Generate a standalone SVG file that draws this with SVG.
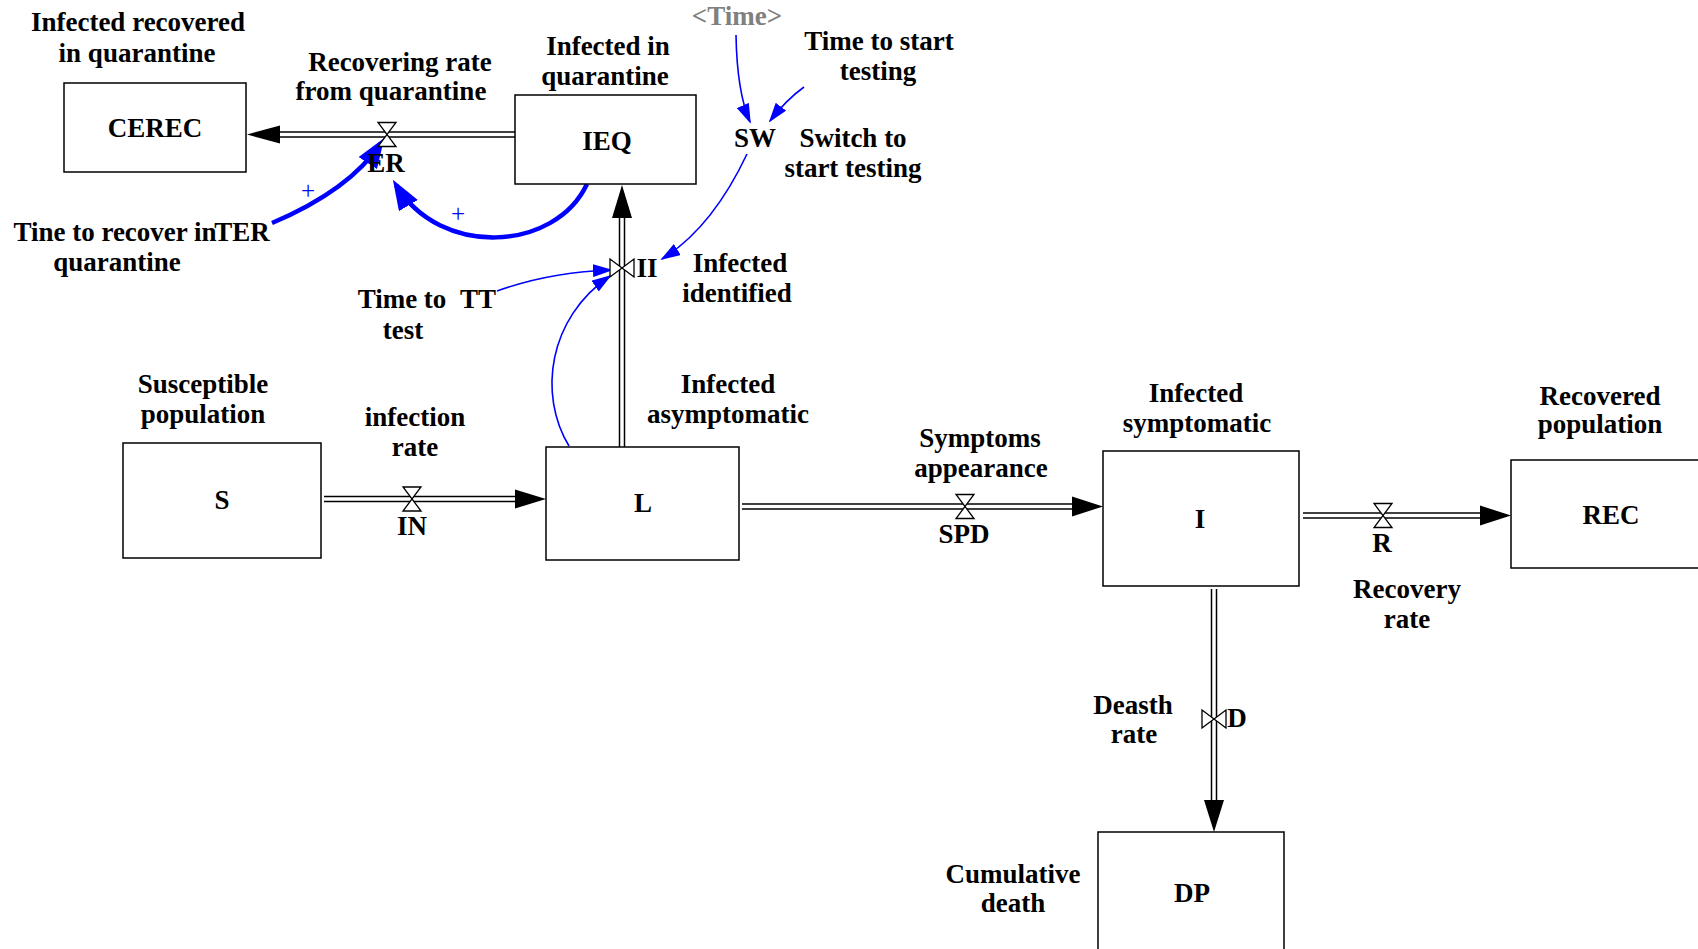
<svg xmlns="http://www.w3.org/2000/svg" width="1698" height="949" viewBox="0 0 1698 949">
<style>
text{font-family:"Liberation Serif","Times New Roman",serif;font-weight:bold;font-size:27px;fill:#000;text-anchor:middle}
.box{fill:#fff;stroke:#000;stroke-width:1.5}
.pipeo{stroke:#000;stroke-width:6.5;fill:none}
.pipei{stroke:#fff;stroke-width:3.5;fill:none}
.head{fill:#000;stroke:none}
.valve{fill:#fff;stroke:#000;stroke-width:1.3;stroke-linejoin:miter}
.thin{fill:none;stroke:#0000ff;stroke-width:1.6;marker-end:url(#ah)}
.thick{fill:none;stroke:#0000ff;stroke-width:4.5;marker-end:url(#ahb)}
.plus{fill:#0000ff;font-weight:normal;font-size:25px}
.gray{fill:#808080}
</style>
<defs>
<marker id="ah" markerUnits="userSpaceOnUse" markerWidth="20" markerHeight="13" refX="18" refY="6.5" orient="auto"><path d="M0,0 L20,6.5 L0,13 z" fill="#0000ff"/></marker>
<marker id="ahb" markerUnits="userSpaceOnUse" markerWidth="30" markerHeight="22" refX="24" refY="11" orient="auto"><path d="M0,0 L30,11 L0,22 z" fill="#0000ff"/></marker>
</defs>
<rect width="1698" height="949" fill="#fff"/>

<g id="connectors">
<path class="pipeo" d="M270,134.5 H515"/><path class="pipei" d="M270,134.5 H515"/>
<polygon class="head" points="247,134.5 280,125.5 280,143.5"/>
<path class="pipeo" d="M622,447 V212"/><path class="pipei" d="M622,447 V212"/>
<polygon class="head" points="622,185 612,218 632,218"/>
<path class="pipeo" d="M324,499 H520"/><path class="pipei" d="M324,499 H520"/>
<polygon class="head" points="546,499 515,489.5 515,508.5"/>
<path class="pipeo" d="M742,506.5 H1076"/><path class="pipei" d="M742,506.5 H1076"/>
<polygon class="head" points="1103,506.5 1072,496.5 1072,516.5"/>
<path class="pipeo" d="M1303,515.5 H1484"/><path class="pipei" d="M1303,515.5 H1484"/>
<polygon class="head" points="1511,515.5 1480,505.5 1480,525.5"/>
<path class="pipeo" d="M1214,589 V804"/><path class="pipei" d="M1214,589 V804"/>
<polygon class="head" points="1214,832 1204,800 1224,800"/>
<path class="thin" d="M736,35 Q737,92 750,122"/>
<path class="thin" d="M804,87 Q786,100 770,121"/>
<path class="thin" d="M747,154 Q712,228 662,259"/>
<path class="thin" d="M497,291 Q550,272 611,270"/>
<path class="thin" d="M569,446 C538,395 548,318 610,276"/>
<path class="thick" d="M272,223 Q350,190 381,143"/>
<path class="thick" d="M587,184 C555,252 440,258 396,185"/>
<text class="plus" x="308" y="199">+</text>
<text class="plus" x="458" y="222">+</text>
</g>

<g id="CEREC">
<rect class="box" x="64" y="83" width="182" height="89"/>
<text x="155" y="137">CEREC</text>
<text x="138" y="31">Infected recovered</text>
<text x="137" y="62">in quarantine</text>
</g>

<g id="IEQ">
<rect class="box" x="515" y="95" width="181" height="89"/>
<text x="607" y="150">IEQ</text>
<text x="608" y="55">Infected in</text>
<text x="605" y="85">quarantine</text>
</g>

<g id="ER">
<polygon class="valve" points="378,122.5 396,122.5 378,146.5 396,146.5"/>
<text x="400" y="71">Recovering rate</text>
<text x="391" y="100">from quarantine</text>
<text x="386" y="172">ER</text>
</g>

<g id="TER">
<text x="115" y="241">Tine to recover in</text>
<text x="117" y="271">quarantine</text>
<text x="242" y="241">TER</text>
</g>

<g id="Time">
<text class="gray" x="737" y="25">&lt;Time&gt;</text>
</g>

<g id="TST">
<text x="879" y="50">Time to start</text>
<text x="878" y="80">testing</text>
</g>

<g id="SW">
<text x="755" y="147">SW</text>
<text x="853" y="147">Switch to</text>
<text x="853" y="177">start testing</text>
</g>

<g id="II">
<polygon class="valve" points="610,259 610,277 634,259 634,277"/>
<text x="647" y="277">II</text>
<text x="740" y="272">Infected</text>
<text x="737" y="302">identified</text>
</g>

<g id="TT">
<text x="402" y="308">Time to</text>
<text x="403" y="339">test</text>
<text x="478" y="308">TT</text>
</g>

<g id="S">
<rect class="box" x="123" y="443" width="198" height="115"/>
<text x="222" y="509">S</text>
<text x="203" y="393">Susceptible</text>
<text x="203" y="423">population</text>
</g>

<g id="IN">
<polygon class="valve" points="403,487 421,487 403,511 421,511"/>
<text x="415" y="426">infection</text>
<text x="415" y="456">rate</text>
<text x="412" y="535">IN</text>
</g>

<g id="L">
<rect class="box" x="546" y="447" width="193" height="113"/>
<text x="643" y="512">L</text>
<text x="728" y="393">Infected</text>
<text x="728" y="423">asymptomatic</text>
</g>

<g id="SPD">
<polygon class="valve" points="956,494.5 974,494.5 956,518.5 974,518.5"/>
<text x="980" y="447">Symptoms</text>
<text x="981" y="477">appearance</text>
<text x="964" y="543">SPD</text>
</g>

<g id="I">
<rect class="box" x="1103" y="451" width="196" height="135"/>
<text x="1200" y="528">I</text>
<text x="1196" y="402">Infected</text>
<text x="1197" y="432">symptomatic</text>
</g>

<g id="R">
<polygon class="valve" points="1374,503.5 1392,503.5 1374,527.5 1392,527.5"/>
<text x="1382" y="552">R</text>
<text x="1407" y="598">Recovery</text>
<text x="1407" y="628">rate</text>
</g>

<g id="REC">
<rect class="box" x="1511" y="460" width="200" height="108"/>
<text x="1611" y="524">REC</text>
<text x="1600" y="405">Recovered</text>
<text x="1600" y="433">population</text>
</g>

<g id="D">
<polygon class="valve" points="1202,710 1202,728 1226,710 1226,728"/>
<text x="1237" y="727">D</text>
<text x="1133" y="714">Deasth</text>
<text x="1134" y="743">rate</text>
</g>

<g id="DP">
<rect class="box" x="1098" y="832" width="186" height="130"/>
<text x="1192" y="902">DP</text>
<text x="1013" y="883">Cumulative</text>
<text x="1013" y="912">death</text>
</g>
</svg>
